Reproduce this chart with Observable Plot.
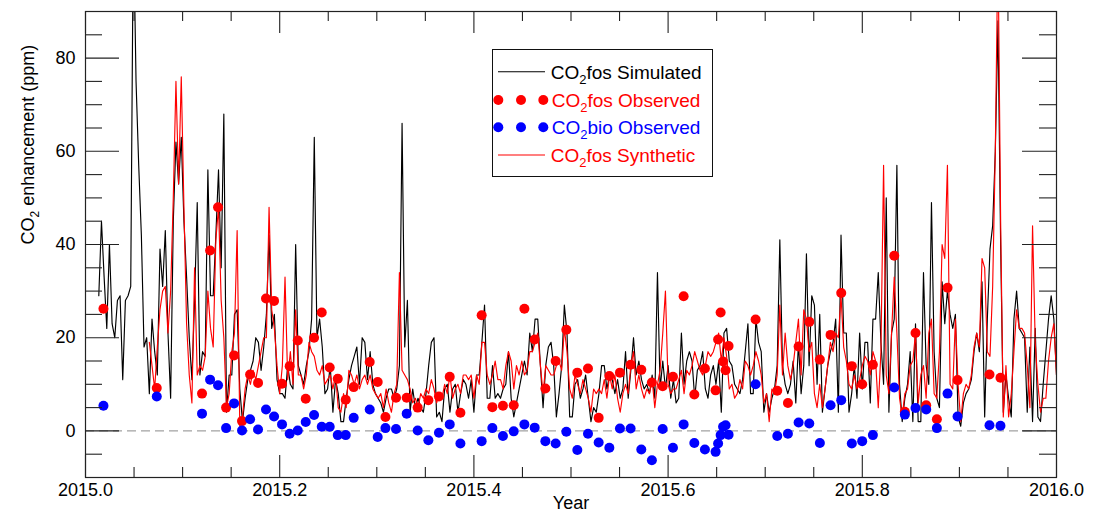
<!DOCTYPE html>
<html>
<head>
<meta charset="utf-8">
<script src="https://cdn.jsdelivr.net/npm/d3@7"></script>
<script src="https://cdn.jsdelivr.net/npm/@observablehq/plot@0.6"></script>
<style>
  html, body { margin: 0; padding: 0; background: #fff; }
  #chart { position: relative; width: 1096px; height: 519px;
           font-family: "Liberation Sans", Arial, Helvetica, sans-serif; }
  #legend { position: absolute; left: 492px; top: 49px; }
</style>
</head>
<body>
<div id="chart"></div>
<script>
// Daily simulated fossil-fuel CO2 enhancement (ppm), starting at day 5 of 2015
const simStartDay = 5;
const simulated = [
  29,45,33,22,40,23,20,28,29,11,
  28,29,31,110,75,57,42,18,20,8,
  24,17,12,39,31,43,21,7,45,62,
  53,63,45,33,20,11,28,49,12,17,
  16,56,29,29,42,56,35,68,4,12,
  12,25,26,9,2,7,11,13,15,20,
  19,13,18,25,42,22,25,11,8,8,
  7,14,10,9,40,14,12,10,14,17,
  24,63,20,24,18,8,9,14,4,11,
  8,2,2,7,11,14,16,18,10,20,
  19,11,17,10,8,7,6,4,7,9,
  9,7,9,14,66,18,28,4,9,5,
  7,5,4,8,14,19,20,3,4,2,
  9,10,4,9,10,4,8,11,10,7,
  11,4,12,12,19,27,7,7,14,7,
  8,7,9,10,17,7,3,6,9,12,
  15,12,21,17,24,24,14,5,14,18,
  19,14,3,8,14,27,21,3,3,10,
  11,7,9,12,7,2,5,4,8,14,
  14,9,12,11,8,11,7,9,17,7,
  13,20,12,15,11,9,10,8,12,7,
  34,9,15,9,14,7,11,6,7,21,
  10,15,17,15,7,13,14,17,9,7,
  12,14,10,15,4,21,22,15,14,10,
  9,8,11,17,23,8,8,24,19,17,
  4,8,4,7,9,14,41,14,10,8,
  10,15,6,19,8,14,38,14,29,27,
  10,25,4,9,14,17,19,24,4,42,
  21,21,4,8,14,7,21,9,19,19,
  6,24,24,34,19,10,50,4,21,24,
  57,10,2,7,10,17,2,23,2,2,
  34,14,10,49,17,7,5,32,23,30,
  25,22,25,3,1,6,8,9,11,17,
  21,17,32,3,24,39,44,60,88,40,
  4,12,7,3,24,30,22,21,20,4,
  18,2,22,3,2,10,17,24,29,24,
  12
];

// Daily synthetic fossil-fuel CO2 enhancement (ppm), starting at day 24 of 2015
const synStartDay = 24;
const synthetic = [
  19,14,9,18,26,30,31,21,30,50,
  75,53,76,48,23,12,6,35,12,14,
  13,16,30,22,18,41,48,28,20,5,
  8,17,21,43,1,3,9,12,10,13,
  11,14,17,20,20,48,26,22,14,8,
  14,33,11,17,10,26,12,12,9,12,
  19,17,16,13,12,14,10,11,12,9,
  12,5,4,8,5,13,12,10,12,9,
  11,12,10,12,9,8,7,8,5,9,
  6,4,8,10,34,13,12,11,9,6,
  7,5,8,7,9,8,11,9,6,8,
  7,10,8,12,7,9,10,8,12,12,
  11,12,7,12,10,19,19,12,10,12,
  15,11,11,9,14,17,15,9,14,12,
  15,12,13,17,17,19,21,14,8,14,
  13,12,12,14,15,13,22,17,9,7,
  12,10,8,11,9,7,4,9,8,9,
  8,11,7,12,9,12,7,4,8,10,
  8,14,17,9,12,9,7,9,8,11,
  5,10,13,21,30,10,8,9,9,11,
  13,8,13,12,14,17,15,13,12,14,
  17,16,17,19,21,15,20,16,9,10,
  7,8,11,9,15,14,12,14,17,15,
  12,6,8,2,9,8,12,27,12,21,
  14,11,14,19,24,12,26,24,17,19,
  8,5,10,5,9,14,19,17,21,20,
  29,18,15,10,9,12,9,11,14,16,
  15,12,17,15,5,17,57,12,8,21,
  33,21,7,3,8,9,14,15,21,6,
  12,14,7,21,24,8,7,17,40,37,
  57,10,9,24,10,2,8,10,9,12,
  18,21,18,37,35,17,16,31,60,105,
  45,3,14,3,8,17,26,22,22,21,
  14,5,44,19,10,4,7,7,15,20,
  23,12
];

// Observation times (decimal year) and observed enhancements (ppm)
const obsYear = [
  2015.0185, 2015.0734, 2015.1200, 2015.1283, 2015.1365, 2015.1448, 2015.1530, 2015.1612,
  2015.1695, 2015.1777, 2015.1859, 2015.1942, 2015.2024, 2015.2103, 2015.2186, 2015.2268,
  2015.2354, 2015.2433, 2015.2515, 2015.2598, 2015.2680, 2015.2762, 2015.2927, 2015.3009,
  2015.3089, 2015.3198, 2015.3308, 2015.3421, 2015.3531, 2015.3640, 2015.3751, 2015.3861,
  2015.4080, 2015.4190, 2015.4299, 2015.4410, 2015.4520, 2015.4626, 2015.4736, 2015.4842,
  2015.4952, 2015.5065, 2015.5175, 2015.5285, 2015.5395, 2015.5504, 2015.5614, 2015.5724,
  2015.5833, 2015.5944, 2015.6050, 2015.6160, 2015.6270, 2015.6379, 2015.6489, 2015.6515,
  2015.6541, 2015.6566, 2015.6592, 2015.6623, 2015.6901, 2015.7124, 2015.7234, 2015.7344,
  2015.7454, 2015.7563, 2015.7673, 2015.7783, 2015.7892, 2015.7999, 2015.8109, 2015.8329,
  2015.8438, 2015.8548, 2015.8658, 2015.8768, 2015.8878, 2015.8981, 2015.9310, 2015.9423
];
const obsFos = [
  26.2, 9.2, 8.0, 38.7, 48.0, 5.0, 16.2, 2.1, 12.1, 10.3, 28.4, 27.9, 10.1, 13.9, 19.4, 6.9,
  20.0, 25.4, 13.6, 11.2, 6.7, 9.4, 14.8, 10.5, 3.0, 7.1, 7.1, 5.0, 6.6, 7.4, 11.6, 3.9,
  24.8, 5.1, 5.4, 5.5, 26.2, 19.6, 9.1, 15.0, 21.7, 12.5, 13.4, 2.8, 11.8, 12.5, 14.2, 13.1,
  10.4, 9.6, 11.6, 28.9, 7.8, 13.4, 8.7, 19.6, 25.4, 14.9, 13.0, 18.2, 23.9, 8.6, 6.0, 18.1,
  23.4, 15.3, 20.6, 29.6, 13.9, 10.0, 14.2, 37.6, 4.1, 21.0, 5.5, 2.5, 30.7, 10.9, 12.1, 11.4
];
const obsBio = [
  5.4, 7.4, 3.7, 11.0, 9.8, 0.6, 5.9, 0.1, 2.5, 0.3, 4.6, 3.1, 1.4, -0.6, 0.1, 1.9,
  3.4, 0.9, 0.9, -0.9, -0.9, 2.8, 4.6, -1.3, 0.6, 0.4, 3.7, 0.1, -2.0, -0.4, 1.4, -2.7,
  -2.2, 0.6, -1.1, -0.1, 1.4, 0.7, -2.2, -2.7, -0.2, -4.1, -0.6, -2.5, -3.6, 0.5, 0.5, -4.0,
  -6.3, 0.4, -3.6, 1.4, -2.6, -4.0, -4.5, -2.7, -0.9, 0.9, 1.2, -0.8, 10.0, -1.1, -0.6, 1.8,
  1.6, -2.6, 5.5, 6.6, -2.7, -2.2, -0.9, 9.3, 3.5, 4.9, 4.6, 0.6, 8.0, 3.1, 1.2, 1.1
];

// Axis ticks
const xMajor = [2015.0, 2015.2, 2015.4, 2015.6, 2015.8, 2016.0];
const xMinor = [2015.05, 2015.1, 2015.15, 2015.25, 2015.3, 2015.35, 2015.45, 2015.5, 2015.55,
                2015.65, 2015.7, 2015.75, 2015.85, 2015.9, 2015.95];
const yMajor = [0, 20, 40, 60, 80];
const yMinor = [-5, 5, 10, 15, 25, 30, 35, 45, 50, 55, 65, 70, 75, 85];
const xTitle = "Year";
const yTitle = "CO2 enhancement (ppm)";

const legendItems = [
  {name: "fos Simulated", kind: "line", color: "#000000"},
  {name: "fos Observed", kind: "dots", color: "#ff0000"},
  {name: "bio Observed", kind: "dots", color: "#0000ff"},
  {name: "fos Synthetic", kind: "line", color: "#ff0000"}
];

// Tables for the marks
const daysInYear = 365;
const simData = simulated.map((v, i) => ({x: 2015 + (simStartDay + i) / daysInYear, y: v}));
const synData = synthetic.map((v, i) => ({x: 2015 + (synStartDay + i) / daysInYear, y: v}));
const obsData = obsYear.map((x, i) => ({x, fos: obsFos[i], bio: obsBio[i]}));

const W = 1096, H = 519;
const M = {top: 11, right: 40, bottom: 42, left: 85};
const frameW = W - M.left - M.right;
const frameH = H - M.top - M.bottom;
const majX = 22, minX = 10, majY = 34, minY = 17;
const tickStyle = {stroke: "#222", strokeWidth: 1.1};

const chart = Plot.plot({
  width: W, height: H,
  marginTop: M.top, marginRight: M.right, marginBottom: M.bottom, marginLeft: M.left,
  style: {fontFamily: '"Liberation Sans", Arial, Helvetica, sans-serif', fontSize: "18px",
          background: "#fff", color: "#000", overflow: "visible"},
  x: {domain: [2015, 2016]},
  y: {domain: [-10, 90]},
  marks: [
    Plot.ruleY([0], {stroke: "#8a8a8a", strokeWidth: 1, strokeDasharray: "9,5"}),
    Plot.line(simData, {x: "x", y: "y", stroke: "#000", strokeWidth: 1.15, clip: true}),
    Plot.line(synData, {x: "x", y: "y", stroke: "#ff0000", strokeWidth: 1.15, clip: true}),
    Plot.dot(obsData, {x: "x", y: "fos", r: 5, fill: "#ff0000"}),
    Plot.dot(obsData, {x: "x", y: "bio", r: 5, fill: "#0000ff"}),
    // inward ticks on all four sides
    Plot.ruleX(xMajor, {...tickStyle, insetTop: frameH - majX}),
    Plot.ruleX(xMajor, {...tickStyle, insetBottom: frameH - majX}),
    Plot.ruleX(xMinor, {...tickStyle, insetTop: frameH - minX}),
    Plot.ruleX(xMinor, {...tickStyle, insetBottom: frameH - minX}),
    Plot.ruleY(yMajor, {...tickStyle, insetRight: frameW - majY}),
    Plot.ruleY(yMajor, {...tickStyle, insetLeft: frameW - majY}),
    Plot.ruleY(yMinor, {...tickStyle, insetRight: frameW - minY}),
    Plot.ruleY(yMinor, {...tickStyle, insetLeft: frameW - minY}),
    Plot.frame({stroke: "#222", strokeWidth: 1.2}),
    Plot.axisX({ticks: xMajor, tickFormat: d => d.toFixed(1), tickSize: 0, tickPadding: 6, label: null}),
    Plot.axisY({ticks: yMajor, tickSize: 0, tickPadding: 10, label: null}),
    Plot.text([xTitle], {text: d => d, frameAnchor: "bottom", dy: 31}),
    Plot.text([yTitle], {text: d => d, frameAnchor: "left", dx: -57, rotate: -90})
  ]
});

// subscript the 2 in the y-axis title
d3.select(chart).selectAll("text")
  .filter(function() { return this.textContent === yTitle; })
  .each(function() {
    const t = d3.select(this);
    t.text(null);
    t.append("tspan").text("CO");
    t.append("tspan").attr("dy", 5).attr("font-size", "12px").text("2");
    t.append("tspan").attr("dy", -5).text(" enhancement (ppm)");
  });

const root = document.getElementById("chart");
root.appendChild(chart);

// legend box
const lg = d3.create("svg").attr("id", "legend").attr("width", 221).attr("height", 128)
  .style("font-family", '"Liberation Sans", Arial, Helvetica, sans-serif');
lg.append("rect").attr("x", 0.5).attr("y", 0.5).attr("width", 220).attr("height", 127)
  .attr("fill", "#fff").attr("stroke", "#111").attr("stroke-width", 1);
const rowY = [22.7, 51, 78.3, 106];
legendItems.forEach((it, i) => {
  const cy = rowY[i];
  if (it.kind === "line") {
    lg.append("line").attr("x1", 6).attr("x2", 53).attr("y1", cy).attr("y2", cy)
      .attr("stroke", it.color).attr("stroke-width", 1.15);
  } else {
    [6.3, 29, 51.3].forEach(cx => lg.append("circle").attr("cx", cx).attr("cy", cy).attr("r", 5).attr("fill", it.color));
  }
  const tx = lg.append("text").attr("x", it.kind === "line" ? 58.7 : 59.7).attr("y", cy + 7)
    .attr("fill", it.color).attr("font-size", 19);
  tx.append("tspan").text("CO");
  tx.append("tspan").attr("dy", 5).attr("font-size", 13).text("2");
  tx.append("tspan").attr("dy", -5).text(it.name);
});
root.appendChild(lg.node());
</script>
</body>
</html>
